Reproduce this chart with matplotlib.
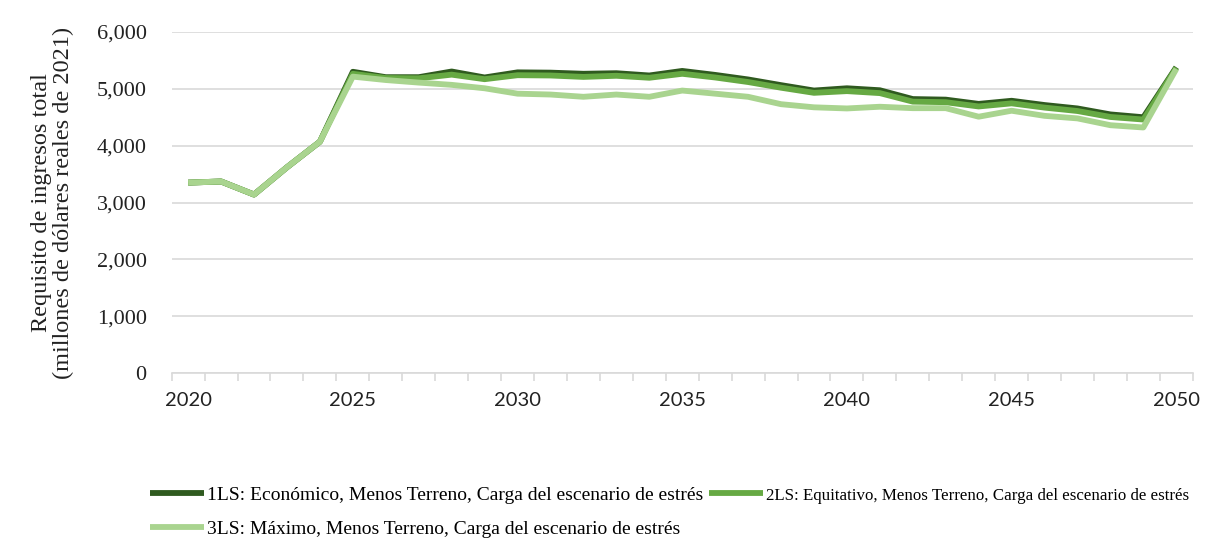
import matplotlib.pyplot as plt
from matplotlib.ticker import FuncFormatter, MultipleLocator

# Requisito de ingresos por escenario (millones de dólares reales de 2021)
years = list(range(2020, 2051))
ls1_economico = [3350, 3370, 3140, 3620, 4070, 5300, 5205, 5205, 5305, 5200,
                 5290, 5285, 5265, 5275, 5235, 5315, 5245, 5165, 5065, 4970,
                 5010, 4975, 4820, 4810, 4735, 4790, 4715, 4655, 4550, 4500,
                 5380]
ls2_equitativo = [3350, 3370, 3140, 3620, 4070, 5265, 5190, 5185, 5250, 5170,
                  5240, 5235, 5210, 5230, 5195, 5265, 5200, 5120, 5020, 4930,
                  4960, 4925, 4775, 4765, 4690, 4745, 4670, 4610, 4505, 4460,
                  5370]
ls3_maximo = [3350, 3370, 3140, 3620, 4070, 5215, 5155, 5110, 5070, 5010,
              4915, 4900, 4860, 4900, 4860, 4970, 4915, 4860, 4730, 4675,
              4655, 4685, 4660, 4660, 4510, 4615, 4525, 4480, 4360, 4320,
              5350]
labels = ["1LS: Económico, Menos Terreno, Carga del escenario de estrés",
          "2LS: Equitativo, Menos Terreno, Carga del escenario de estrés",
          "3LS: Máximo, Menos Terreno, Carga del escenario de estrés"]
colors = ["#2f5a1f", "#66a943", "#a9d48f"]

serif = ["Liberation Serif", "DejaVu Serif"]

fig = plt.figure(figsize=(12.15, 5.5), dpi=100)
ax = fig.add_axes([0.1413, 0.3218, 0.8404, 0.62])

lines = []
for vals, lab, col in zip([ls1_economico, ls2_equitativo, ls3_maximo], labels, colors):
    ln, = ax.plot(years, vals, color=col, lw=4.2, label=lab,
                  solid_capstyle="butt", solid_joinstyle="round")
    lines.append(ln)

ax.set_xlim(2019.5, 2050.5)
ax.set_ylim(0, 6000)
ax.yaxis.set_major_locator(MultipleLocator(1000))
ax.yaxis.set_major_formatter(FuncFormatter(lambda v, p: f"{int(v):,}"))
ax.set_xticks([2020, 2025, 2030, 2035, 2040, 2045, 2050])
ax.set_xticks([2019.5 + k for k in range(32)], minor=True)

ax.grid(axis="y", color="#d9d9d9", lw=1.2)
ax.set_axisbelow(True)
for s in ["top", "right", "left"]:
    ax.spines[s].set_visible(False)
ax.spines["bottom"].set_color("#d9d9d9")
ax.spines["bottom"].set_linewidth(1.2)

ax.tick_params(axis="y", length=0, pad=18, labelsize=16, labelcolor="#222222")
ax.tick_params(axis="x", which="major", length=0, pad=14, labelsize=14.5,
               labelcolor="#222222")
ax.tick_params(axis="x", which="minor", length=6, width=1.2, color="#d9d9d9")
for t in ax.get_yticklabels():
    t.set_family(serif)
for t in ax.get_xticklabels():
    t.set_family(["Lato", "DejaVu Sans"])

ax.set_ylabel("Requisito de ingresos total\n(millones de dólares reales de 2021)",
              fontsize=17.5, family=serif, color="#222222", labelpad=16,
              linespacing=1.05)

# ncol=2 fills by column: order so row 1 = 1LS, 2LS and row 2 = 3LS
order = [0, 2, 1]
leg = fig.legend([lines[i] for i in order], [labels[i] for i in order],
                 loc="upper left", bbox_to_anchor=(0.117, 0.13), ncol=2,
                 frameon=False, prop={"family": serif, "size": 14},
                 handlelength=2.8, handletextpad=0.12, columnspacing=0.3,
                 labelspacing=0.85, borderaxespad=0)
leg.get_texts()[2].set_fontsize(12.2)

fig.savefig("out.png", dpi=100)
